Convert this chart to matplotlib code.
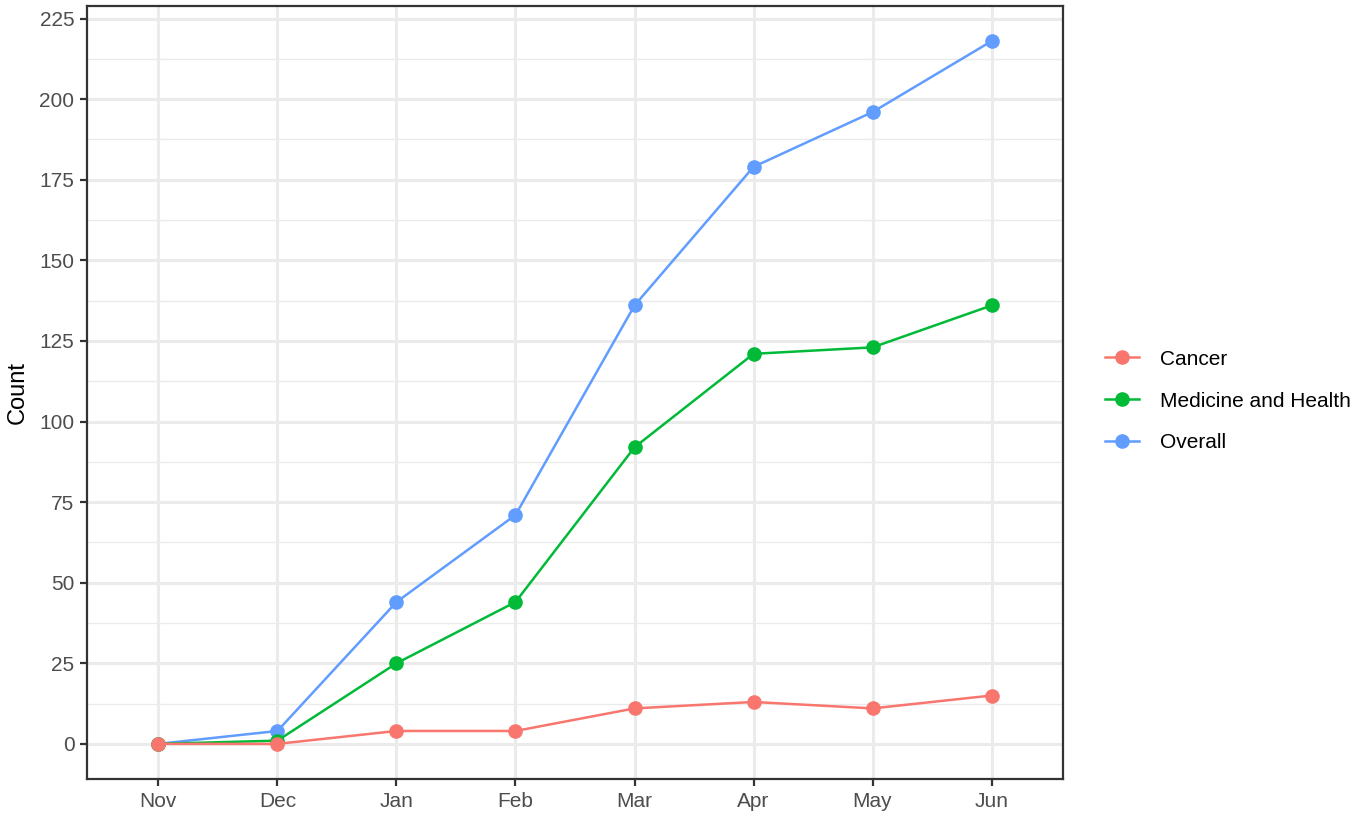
import matplotlib.pyplot as plt
from matplotlib.ticker import MultipleLocator

plt.rcParams['font.family'] = ['Liberation Sans', 'DejaVu Sans']

months = ['Nov', 'Dec', 'Jan', 'Feb', 'Mar', 'Apr', 'May', 'Jun']
cancer = [0, 0, 4, 4, 11, 13, 11, 15]
medicine = [0, 1, 25, 44, 92, 121, 123, 136]
overall = [0, 4, 44, 71, 136, 179, 196, 218]

series = [('Cancer', cancer, '#F8766D'),
          ('Medicine and Health', medicine, '#00BA38'),
          ('Overall', overall, '#619CFF')]

fig = plt.figure(figsize=(13.61, 8.13), dpi=100)
ax = fig.add_axes([87 / 1361, 1 - 779 / 813, 976 / 1361, 773 / 813])

x = list(range(len(months)))
handles = []
# draw in reverse so Cancer sits on top, like the original
for i, (name, vals, col) in enumerate(series):
    h, = ax.plot(x, vals, color=col, linewidth=1.8, marker='o', markersize=9.5,
                 label=name, zorder=5 - i)
    handles.append(h)

ax.set_xlim(-0.6, len(months) - 0.4)
ax.set_ylim(-10.9, 228.9)
ax.set_xticks(x)
ax.set_xticklabels(months)
ax.yaxis.set_major_locator(MultipleLocator(25))
ax.yaxis.set_minor_locator(MultipleLocator(12.5))
ax.grid(True, which='major', color='#EBEBEB', linewidth=2.2, zorder=0)
ax.grid(True, which='minor', axis='y', color='#EBEBEB', linewidth=1.0, zorder=0)
ax.set_axisbelow(True)
ax.tick_params(which='major', length=5, width=1.6, color='#333333',
               labelsize=15, labelcolor='#4D4D4D', pad=4)
ax.tick_params(which='minor', length=0)
for s in ax.spines.values():
    s.set_color('#333333')
    s.set_linewidth(1.6)

ax.set_ylabel('Count', fontsize=17, labelpad=8)

fig.legend(handles=handles, loc='center left', bbox_to_anchor=(1095 / 1361, 1 - 401 / 813),
           frameon=False, fontsize=15, handlelength=1.6, handletextpad=1.0,
           labelspacing=1.1, borderpad=0)

fig.savefig('out.png', dpi=100)
